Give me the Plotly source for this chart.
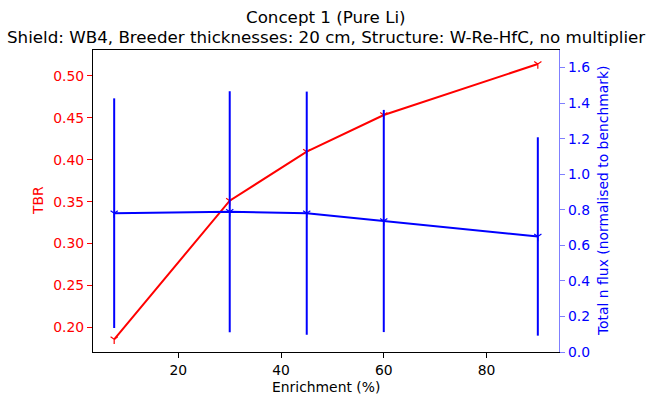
import plotly.graph_objects as go

enrichment = [7.5, 30, 45, 60, 90]
tbr = [0.1857, 0.3511, 0.4096, 0.4534, 0.5143]
flux = [0.781, 0.789, 0.781, 0.737, 0.650]
flux_err = [0.646, 0.678, 0.684, 0.625, 0.558]

x_ticks = [20, 40, 60, 80]
tbr_ticks = [0.20, 0.25, 0.30, 0.35, 0.40, 0.45, 0.50]
flux_ticks = [0.0, 0.2, 0.4, 0.6, 0.8, 1.0, 1.2, 1.4, 1.6]

FONT = "DejaVu Sans"
TICK = 13.9

fig = go.Figure()
fig.add_trace(go.Scatter(
    x=enrichment, y=tbr, mode="lines+markers",
    line=dict(color="red", width=2),
    marker=dict(symbol="y-down", size=6, line=dict(color="red", width=1.2), color="red"),
    yaxis="y", showlegend=False,
))
fig.add_trace(go.Scatter(
    x=enrichment, y=flux, mode="lines+markers",
    line=dict(color="blue", width=2),
    marker=dict(symbol="y-down", size=6, line=dict(color="blue", width=1.2), color="blue"),
    error_y=dict(type="data", array=flux_err, visible=True, color="blue", thickness=2, width=0),
    yaxis="y2", showlegend=False,
))

fig.update_layout(
    width=646, height=399,
    margin=dict(l=93, r=87, t=50, b=47),
    paper_bgcolor="white", plot_bgcolor="white",
    font=dict(family=FONT, size=TICK, color="black"),
    xaxis=dict(
        range=[3.375, 94.125], tickvals=x_ticks, ticks="outside", ticklen=5,
        tickcolor="black", showline=True, linecolor="black", linewidth=1.2,
        mirror=True, showgrid=False, zeroline=False,
        tickfont=dict(size=TICK, color="black"),
    ),
    yaxis=dict(
        range=[0.1705, 0.531], tickvals=tbr_ticks, ticktext=[f"{v:.2f}" for v in tbr_ticks],
        ticks="outside", ticklen=5, tickcolor="red", showline=True, linecolor="black",
        linewidth=1.2, showgrid=False, zeroline=False,
        tickfont=dict(size=TICK, color="red"),
    ),
    yaxis2=dict(
        range=[0, 1.699], tickvals=flux_ticks, ticktext=[f"{v:.1f}" for v in flux_ticks],
        overlaying="y", side="right", ticks="outside", ticklen=5, tickcolor="#7f7fff",
        showline=True, linecolor="#7f7fff", linewidth=1.2, showgrid=False, zeroline=False,
        tickfont=dict(size=TICK, color="blue"),
    ),
    annotations=[
        dict(text="Concept 1 (Pure Li)", x=0.5, y=28, xref="paper", yref="paper",
             showarrow=False, font=dict(size=16.7, color="black")),
        dict(text="Shield: WB4, Breeder thicknesses: 20 cm, Structure: W-Re-HfC, no multiplier",
             x=0.5, y=1, xref="paper", yref="paper", showarrow=False,
             font=dict(size=16.7, color="black")),
        dict(text="Enrichment (%)", x=0.5, y=0, xref="paper", yref="paper", showarrow=False,
             font=dict(size=TICK, color="black")),
        dict(text="TBR", x=0, y=0.5, xref="paper", yref="paper", showarrow=False,
             textangle=-90, font=dict(size=TICK, color="red")),
        dict(text="Total n flux (normalised to benchmark)", x=1, y=0.5, xref="paper",
             yref="paper", showarrow=False, textangle=-90, font=dict(size=TICK, color="blue")),
    ],
)

# place annotations in pixel terms
W, H = 646, 399
L, R, T, B = 93, 87, 50, 47
pw, ph = W - L - R, H - T - B

def px_x(x):
    return (x - L) / pw

def px_y(y):
    return (H - B - y) / ph

anns = list(fig.layout.annotations)
anns[0].update(x=px_x(326), y=px_y(17.5), yanchor="middle", xanchor="center")
anns[1].update(x=px_x(326), y=px_y(37), yanchor="middle", xanchor="center")
anns[2].update(x=px_x(326), y=px_y(387), yanchor="middle", xanchor="center")
anns[3].update(x=px_x(38), y=px_y(201), yanchor="middle", xanchor="center")
anns[4].update(x=px_x(603), y=px_y(201), yanchor="middle", xanchor="center")
fig.update_layout(annotations=anns)

fig.write_html("out.html")
